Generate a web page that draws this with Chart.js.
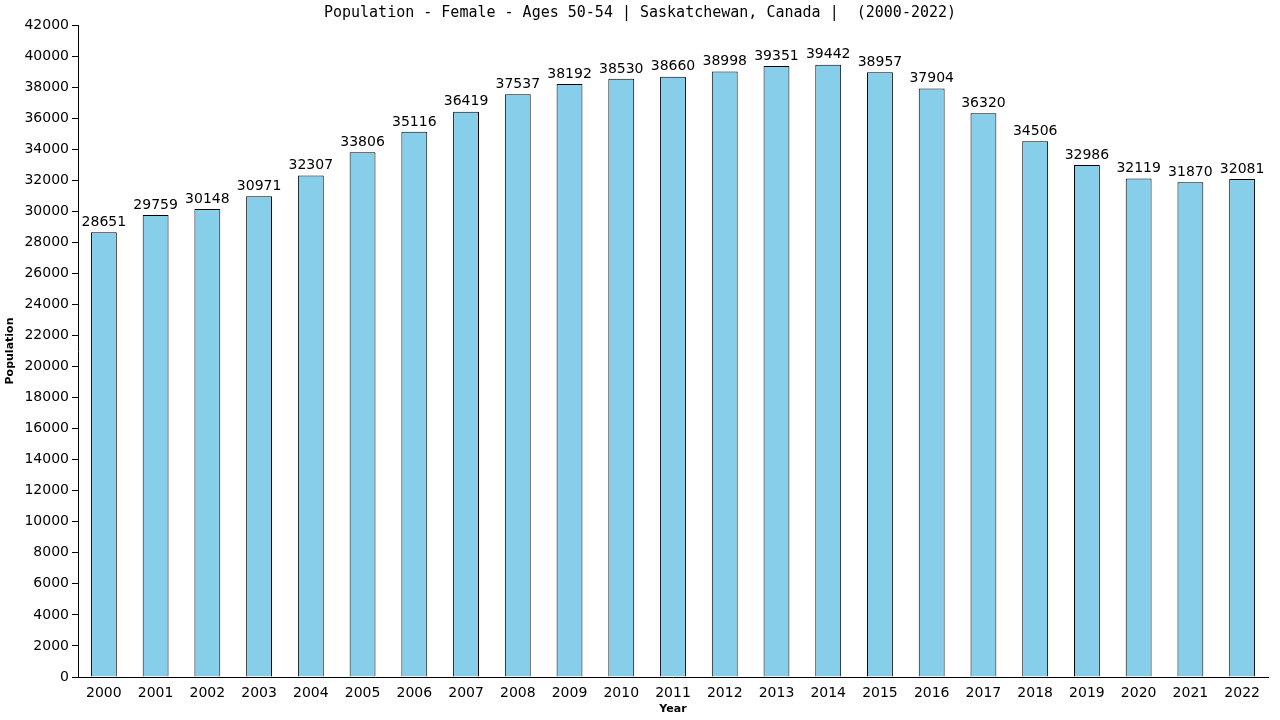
<!DOCTYPE html>
<html>
<head>
<meta charset="utf-8">
<script src="https://cdn.jsdelivr.net/npm/chart.js@4"></script>
<style>
  html, body { margin: 0; padding: 0; background: #fff; }
  #wrap { width: 1280px; height: 720px; }
</style>
</head>
<body>
<div id="wrap"><canvas id="chart" width="1280" height="720"></canvas></div>
<script>
const years = ['2000', '2001', '2002', '2003', '2004', '2005', '2006', '2007', '2008', '2009', '2010', '2011',
  '2012', '2013', '2014', '2015', '2016', '2017', '2018', '2019', '2020', '2021', '2022'];
const population = [28651, 29759, 30148, 30971, 32307, 33806, 35116, 36419, 37537, 38192, 38530, 38660,
  38998, 39351, 39442, 38957, 37904, 36320, 34506, 32986, 32119, 31870, 32081];

const TITLE = 'Population - Female - Ages 50-54 | Saskatchewan, Canada |  (2000-2022)';
const FONT = '"DejaVu Sans", sans-serif';
const MONO = '"DejaVu Sans Mono", monospace';

// value labels above each bar + chart title
const labelPlugin = {
  id: 'labels',
  afterDatasetsDraw(chart) {
    const ctx = chart.ctx;
    const meta = chart.getDatasetMeta(0);
    ctx.save();
    ctx.fillStyle = '#000';
    ctx.font = '14px ' + FONT;
    ctx.textAlign = 'center';
    ctx.textBaseline = 'bottom';
    meta.data.forEach((bar, i) => {
      ctx.fillText(String(population[i]), bar.x, bar.y - 3);
    });
    ctx.font = '15px ' + MONO;
    ctx.textBaseline = 'middle';
    ctx.fillText(TITLE, 640, 13);
    ctx.restore();
  }
};

new Chart(document.getElementById('chart').getContext('2d'), {
  type: 'bar',
  data: {
    labels: years,
    datasets: [{
      data: population,
      backgroundColor: '#87CEEB',
      borderColor: '#000',
      borderWidth: 1,
      borderSkipped: 'bottom',
      barPercentage: 0.5,
      categoryPercentage: 1.0,
    }]
  },
  options: {
    responsive: false,
    animation: false,
    layout: { padding: { top: 25, right: 12, left: 0, bottom: 0 } },
    plugins: {
      legend: { display: false },
      tooltip: { enabled: false },
      title: { display: false }
    },
    scales: {
      x: {
        afterFit: (s) => { s.height = 43; },
        ticks: { color: '#000', font: { family: FONT, size: 14 }, padding: 0, maxRotation: 0 },
        grid: { display: false },
        border: { color: '#000', width: 1 },
        title: { display: true, text: 'Year', color: '#000', font: { family: FONT, size: 11, weight: 'bold' }, padding: { top: 0 } }
      },
      y: {
        min: 0,
        max: 42000,
        afterFit: (s) => { s.width = 78; },
        ticks: { stepSize: 2000, color: '#000', font: { family: FONT, size: 14 }, padding: 3, callback: (v) => String(v) },
        grid: { drawOnChartArea: false, color: '#000', tickLength: 6 },
        border: { color: '#000', width: 1 },
        title: { display: true, text: 'Population', color: '#000', font: { family: FONT, size: 11, weight: 'bold' }, padding: { bottom: 0 } }
      }
    }
  },
  plugins: [labelPlugin]
});
</script>
</body>
</html>
